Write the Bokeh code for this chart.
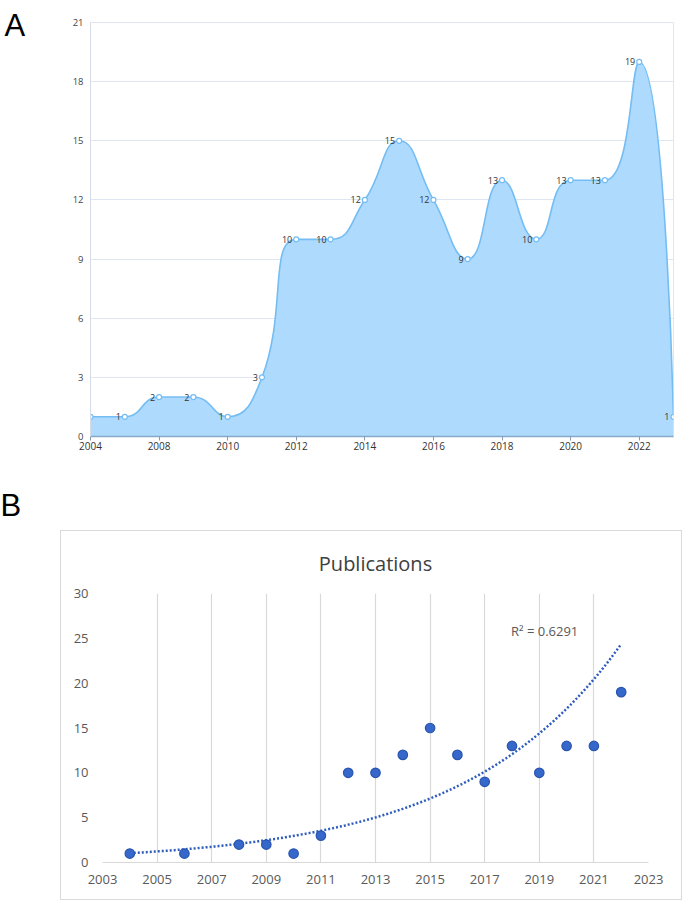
import numpy as np
from math import hypot
from bokeh.plotting import figure
from bokeh.models import ColumnDataSource, Range1d, FixedTicker, LabelSet, Label
from bokeh.layouts import column, row
from bokeh.core.properties import value
from bokeh.embed import file_html
from bokeh.resources import INLINE

# ---------------- data ----------------
# Panel A (category axis, evenly spaced)
years_a = [2004, 2006, 2008, 2009, 2010, 2011, 2012, 2013, 2014, 2015,
           2016, 2017, 2018, 2019, 2020, 2021, 2022, 2023]
counts_a = [1, 1, 2, 2, 1, 3, 10, 10, 12, 15, 12, 9, 13, 10, 13, 13, 19, 1]
a_yticks = [0, 3, 6, 9, 12, 15, 18, 21]
a_label_idx = [0, 2, 4, 6, 8, 10, 12, 14, 16]

# Panel B (scatter with exponential trend)
pub_years = [2004, 2006, 2008, 2009, 2010, 2011, 2012, 2013, 2014, 2015,
             2016, 2017, 2018, 2019, 2020, 2021, 2022]
pub_counts = [1, 1, 2, 2, 1, 3, 10, 10, 12, 15, 12, 9, 13, 10, 13, 13, 19]
b_xticks = [2003, 2005, 2007, 2009, 2011, 2013, 2015, 2017, 2019, 2021, 2023]
b_yticks = [0, 5, 10, 15, 20, 25, 30]
b_title = "Publications"
r2_text = "R\u00b2 = 0.6291"
panel_letters = ["A", "B"]

LINE_A = "#74BDF4"
FILL_A = "#AEDBFD"
GREY_TXT = "#595959"


def no_align(fig):
    try:
        fig.frame_align = False
    except Exception:
        pass


def smooth_segments(xs, ys, sx, sy, smooth=0.5):
    """Bezier control points of an ECharts-style smoothed line (screen-scaled)."""
    X = [float(v) * sx for v in xs]
    Y = [float(v) * sy for v in ys]
    n = len(X)
    segs = []
    cp0 = (X[0], Y[0])
    for i in range(1, n):
        x, y = X[i], Y[i]
        px, py = X[i - 1], Y[i - 1]
        if i == n - 1:
            cp1 = (x, y)
            ncp0 = None
        else:
            nx, ny = X[i + 1], Y[i + 1]
            vx, vy = nx - px, ny - py
            lp = hypot(x - px, y - py)
            ln = hypot(nx - x, ny - y)
            r = ln / (ln + lp)
            ncx = x + vx * smooth * r
            ncy = y + vy * smooth * r
            ncx = max(min(ncx, max(nx, x)), min(nx, x))
            ncy = max(min(ncy, max(ny, y)), min(ny, y))
            vx, vy = ncx - x, ncy - y
            c1x = x - vx * lp / ln
            c1y = y - vy * lp / ln
            c1x = max(min(c1x, max(px, x)), min(px, x))
            c1y = max(min(c1y, max(py, y)), min(py, y))
            vx, vy = x - c1x, y - c1y
            ncx = x + vx * ln / lp
            ncy = y + vy * ln / lp
            cp1 = (c1x, c1y)
            ncp0 = (ncx, ncy)
        segs.append((px / sx, py / sy, cp0[0] / sx, cp0[1] / sy,
                     cp1[0] / sx, cp1[1] / sy, x / sx, y / sy))
        cp0 = ncp0
    return segs


# ---------------- panel letters strip ----------------
pL = figure(width=30, height=530, x_range=Range1d(0, 30), y_range=Range1d(530, 0),
            output_backend="svg", toolbar_location=None, x_axis_location=None,
            y_axis_location=None, min_border=0)
no_align(pL)
pL.outline_line_color = None
pL.xgrid.visible = False
pL.ygrid.visible = False
pL.text(x=[4, 0], y=[25, 505], text=panel_letters, text_font=value("Liberation Sans"),
        text_font_size="31px", text_color="black", text_baseline="alphabetic",
        text_align="left")

# ---------------- Panel A ----------------
n_a = len(years_a)
idx_a = list(range(n_a))
sx = 583.0 / (n_a - 1)
sy = 414.0 / 21.0

pA = figure(width=655, height=530, x_range=Range1d(0, n_a - 1), y_range=Range1d(0, 21),
            output_backend="svg", toolbar_location=None,
            min_border_left=60, min_border_right=12, min_border_top=22, min_border_bottom=94)
no_align(pA)
pA.background_fill_color = "white"
pA.outline_line_color = "#E0E6F1"
pA.xgrid.visible = False
pA.ygrid.grid_line_color = "#E0E6F1"
pA.ygrid.ticker = FixedTicker(ticks=a_yticks)

segs = smooth_segments(idx_a, counts_a, sx, sy)
bx, by = [], []
t = np.linspace(0, 1, 40)
for (x0, y0, c0x, c0y, c1x, c1y, x1, y1) in segs:
    bx.extend(((1 - t) ** 3) * x0 + 3 * ((1 - t) ** 2) * t * c0x + 3 * (1 - t) * t ** 2 * c1x + t ** 3 * x1)
    by.extend(((1 - t) ** 3) * y0 + 3 * ((1 - t) ** 2) * t * c0y + 3 * (1 - t) * t ** 2 * c1y + t ** 3 * y1)
pA.varea(x=bx, y1=0, y2=by, fill_color=FILL_A, fill_alpha=1.0)

seg = np.array(segs)
pA.bezier(x0=seg[:, 0], y0=seg[:, 1], cx0=seg[:, 2], cy0=seg[:, 3],
          cx1=seg[:, 4], cy1=seg[:, 5], x1=seg[:, 6], y1=seg[:, 7],
          line_color=LINE_A, line_width=1.6)

src_a = ColumnDataSource(dict(x=idx_a, y=counts_a, t=[str(v) for v in counts_a]))
pA.scatter("x", "y", source=src_a, size=5, fill_color="white", line_color=LINE_A, line_width=1.2)
pA.add_layout(LabelSet(x="x", y="y", text="t", source=src_a, x_offset=-4, y_offset=0,
                       text_align="right", text_baseline="middle",
                       text_font=value("Open Sans"), text_font_size="9px",
                       text_color="#333333"))

pA.yaxis.ticker = FixedTicker(ticks=a_yticks)
pA.yaxis.axis_line_color = "#D5DCE6"
pA.yaxis.major_tick_line_color = None
pA.yaxis.major_tick_out = 0
pA.yaxis.major_tick_in = 0
pA.yaxis.minor_tick_line_color = None
pA.yaxis.major_label_standoff = 7
pA.yaxis.major_label_text_font = "Open Sans"
pA.yaxis.major_label_text_font_size = "9.5px"
pA.yaxis.major_label_text_color = "#444444"

pA.xaxis.ticker = FixedTicker(ticks=a_label_idx)
pA.xaxis.major_label_overrides = {i: str(years_a[i]) for i in a_label_idx}
pA.xaxis.axis_line_color = "#86A9C9"
pA.xaxis.axis_line_width = 1.5
pA.xaxis.major_tick_line_color = "#8A9BB0"
pA.xaxis.major_tick_in = 0
pA.xaxis.major_tick_out = 4
pA.xaxis.minor_tick_line_color = None
pA.xaxis.major_label_standoff = 1
pA.xaxis.major_label_text_font = "Open Sans"
pA.xaxis.major_label_text_font_size = "10px"
pA.xaxis.major_label_text_color = "#333333"

# ---------------- Panel B ----------------
pB = figure(width=622, height=370, x_range=Range1d(2003, 2023), y_range=Range1d(0, 30),
            output_backend="svg", toolbar_location=None,
            min_border_left=41, min_border_right=35, min_border_top=62, min_border_bottom=39)
no_align(pB)
pB.margin = (0, 0, 0, 60)
pB.styles = {"border": "1px solid #D9D9D9"}
pB.outline_line_color = None
pB.title.text = b_title
pB.title.align = "center"
pB.title.vertical_align = "top"
pB.title.text_font = "Open Sans"
pB.title.text_font_size = "20px"
pB.title.text_font_style = "normal"
pB.title.text_color = "#404040"
pB.title.standoff = 30
pB.ygrid.visible = False
pB.xgrid.ticker = FixedTicker(ticks=b_xticks)
pB.xgrid.grid_line_color = "#D9D9D9"
pB.xgrid.grid_line_width = 1.2

# exponential trend (least-squares fit on log values, as in a spreadsheet trendline)
bfit, afit = np.polyfit(np.array(pub_years, float), np.log(np.array(pub_counts, float)), 1)
xf = np.linspace(pub_years[0], pub_years[-1], 300)
yf = np.exp(afit + bfit * xf)
pB.line(xf, yf, line_color="#2E5BBE", line_width=2.5, line_dash="2 2")

pB.scatter(pub_years, pub_counts, size=9.5, fill_color="#3668CB", line_color="#2A55AE", line_width=1.2)

pB.xaxis.ticker = FixedTicker(ticks=b_xticks)
pB.xaxis.axis_line_color = "#D9D9D9"
pB.xaxis.axis_line_width = 1.2
pB.xaxis.major_tick_line_color = None
pB.xaxis.minor_tick_line_color = None
pB.xaxis.major_tick_out = 0
pB.xaxis.major_tick_in = 0
pB.xaxis.major_label_standoff = 12
pB.xaxis.major_label_text_font = "Open Sans"
pB.xaxis.major_label_text_font_size = "13px"
pB.xaxis.major_label_text_color = GREY_TXT

pB.yaxis.ticker = FixedTicker(ticks=b_yticks)
pB.yaxis.axis_line_color = None
pB.yaxis.major_tick_line_color = None
pB.yaxis.minor_tick_line_color = None
pB.yaxis.major_tick_out = 0
pB.yaxis.major_tick_in = 0
pB.yaxis.major_label_standoff = 14
pB.yaxis.major_label_text_font = "Open Sans"
pB.yaxis.major_label_text_font_size = "13px"
pB.yaxis.major_label_text_color = GREY_TXT

bsx = 544.0 / 20.0
bsy = 267.0 / 30.0
pB.add_layout(Label(x=2003 + 407.0 / bsx, y=30 - 37.0 / bsy, text=r2_text,
                    text_font="Open Sans", text_font_size="13px", text_color=GREY_TXT,
                    text_align="left", text_baseline="middle"))

layout = column(row(pL, pA), pB)
open("out.html", "w").write(file_html(layout, INLINE))
